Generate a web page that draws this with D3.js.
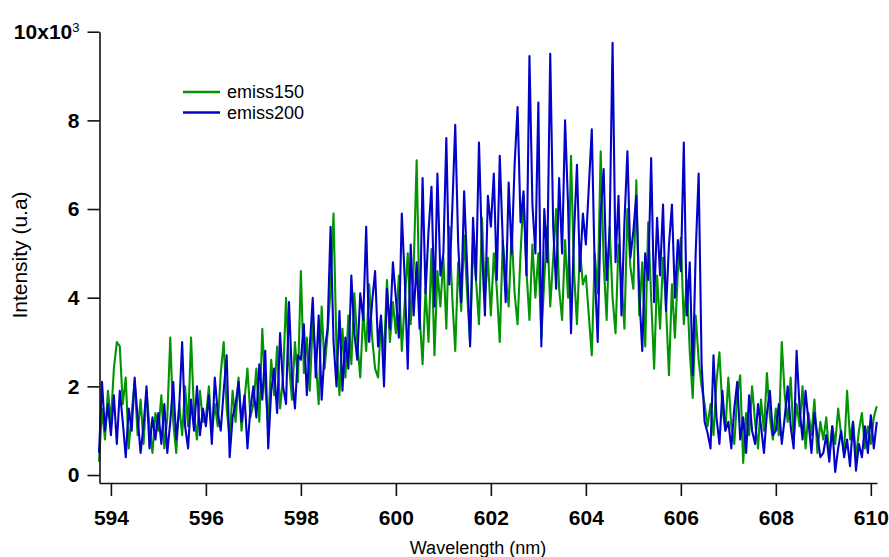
<!DOCTYPE html>
<html>
<head>
<script src="https://d3js.org/d3.v7.min.js"></script>
<style>
  body { margin: 0; background: #fff; }
  .tick text { font-family: "Liberation Sans", Arial, sans-serif; font-weight: bold; fill: #000; }
  .axis path, .axis line { stroke: #111; stroke-width: 1.6; }
  .title { font-family: "Liberation Sans", Arial, sans-serif; fill: #000; }
  .legend text { font-family: "Liberation Sans", Arial, sans-serif; font-size: 18px; fill: #000; }
</style>
</head>
<body>
<svg id="chart" width="889" height="557"></svg>
<script>
// wavelength grid (nm): first sample and spacing of the spectrometer
var lambdaStart = 593.75;
var lambdaStep = 0.0625;

// intensity, in units of 10^3
var emiss150 = [
  0.3, 1.5, 0.8, 1.9,
  1.2, 2.4, 3.0, 2.9, 1.6, 2.2, 0.6, 1.4, 2.1, 0.9, 1.7, 0.7, 1.9, 1.1, 0.5, 1.4,
  1.0, 1.8, 0.6, 1.3, 3.1, 1.2, 0.5, 1.6, 0.9, 2.0, 1.1, 3.1, 1.4, 0.8, 1.9, 1.2,
  1.3, 2.0, 0.9, 1.6, 1.1, 2.3, 3.0, 1.5, 0.8, 1.9, 1.2, 2.2, 1.0, 1.7, 2.4, 1.3,
  1.6, 2.4, 1.2, 3.3, 2.0, 1.1, 2.6, 1.8, 2.9, 1.5, 2.2, 4.0, 2.5, 1.7, 3.0, 2.1,
  4.6, 2.3, 3.1, 1.9, 3.5, 2.6, 1.6, 3.8, 2.4, 3.2, 4.2, 5.9, 2.8, 1.8, 3.3, 2.2,
  3.6, 2.5, 4.1, 3.0, 2.2, 3.7, 2.8, 4.3, 3.1, 2.4, 2.2, 3.5, 2.7, 4.4, 3.0, 3.9,
  3.2, 4.5, 2.8, 3.9, 5.0, 3.4, 4.7, 7.1, 3.6, 2.5, 4.2, 3.0, 5.1, 2.7, 4.6, 3.8,
  4.9, 3.3, 5.6, 4.0, 2.8, 4.8, 3.7, 5.4, 4.1, 3.0, 5.2, 4.4, 3.4, 5.8, 4.0, 4.9,
  3.6, 5.0, 4.2, 3.0, 5.3, 4.5, 3.8, 5.5, 4.1, 3.4, 5.0, 6.3, 4.6, 3.5, 5.2, 4.0,
  5.0, 3.1, 4.4, 5.6, 3.8, 4.9, 6.0, 4.2, 3.5, 5.3, 4.0, 7.2, 4.6, 3.4, 5.1, 4.3,
  4.5, 3.6, 2.7, 5.0, 4.1, 7.3, 4.8, 3.5, 5.6, 4.0, 3.2, 5.2, 4.4, 3.3, 6.0, 4.7,
  4.2, 6.65, 3.6, 4.8, 2.9, 5.7, 4.0, 2.4, 4.5, 3.3, 4.9, 3.8, 2.25, 4.3, 3.1, 4.6,
  5.35, 3.4, 4.4, 2.8, 1.74, 3.6, 2.6, 2.0, 1.6, 1.1, 1.6, 0.9, 2.1, 2.77, 1.5, 1.0,
  2.2, 1.1, 0.7, 1.8, 2.25, 0.27, 1.4, 0.9, 2.0, 1.2, 0.6, 1.7, 1.0, 2.3, 1.3, 0.8,
  1.5, 0.9, 3.0, 1.8, 1.2, 2.2, 0.8, 1.6, 1.1, 2.0, 0.6, 1.4, 0.9, 1.7, 0.5, 1.2,
  0.8, 1.3, 0.4, 1.1, 0.7, 1.5, 0.9, 0.5, 1.9, 0.8, 1.2, 0.4, 1.0, 1.4, 0.6, 1.1, 0.7, 1.3, 1.55
];

var emiss200 = [
  0.5, 2.1, 1.0, 1.6,
  0.9, 1.8, 0.7, 1.9, 1.2, 0.4, 1.5, 1.0, 2.2, 1.3, 0.5, 1.1, 2.0, 0.6, 1.3, 0.8,
  1.4, 0.7, 1.6, 0.5, 1.2, 2.1, 0.8, 1.5, 3.0, 1.1, 0.6, 1.7, 1.0, 2.0, 0.9, 1.5,
  1.1, 1.8, 0.7, 2.2, 1.4, 1.0, 1.9, 2.7, 0.4, 1.3, 1.6, 2.1, 1.2, 1.8, 0.6, 1.5,
  2.0, 1.3, 2.5, 1.7, 2.8, 0.6, 1.9, 2.4, 1.4, 3.2, 2.0, 1.6, 3.9, 2.2, 1.5, 2.7,
  2.6, 3.4, 1.8, 2.9, 4.0, 2.2, 3.6, 1.7, 2.8, 3.3, 5.6, 3.0, 2.0, 3.7, 1.9, 3.1,
  2.4, 4.5, 3.2, 2.6, 4.1, 3.5, 5.6, 3.0, 3.9, 4.6, 2.9, 3.6, 2.0, 4.2, 3.3, 4.8,
  4.0, 3.1, 5.9, 4.4, 2.4, 5.2, 3.6, 4.8, 3.3, 6.7, 4.1, 5.5, 6.5, 3.8, 6.8, 4.5,
  5.0, 7.6, 4.3, 6.0, 7.9, 5.2, 3.9, 6.4, 4.7, 2.9, 5.8, 4.4, 7.5, 5.1, 3.6, 6.3,
  5.6, 6.8, 4.4, 7.2, 5.3, 3.9, 6.6, 5.0, 7.0, 8.3, 5.7, 6.4, 4.5, 9.45, 6.1, 5.0,
  8.4, 2.9, 6.0, 4.8, 9.5, 5.6, 4.2, 6.7, 5.0, 8.0, 6.1, 3.2, 5.4, 7.0, 4.6, 5.9,
  5.2, 6.5, 7.8, 4.6, 3.0, 5.9, 6.9, 4.4, 5.5, 9.75, 4.8, 6.3, 3.6, 5.7, 7.3, 4.9,
  5.5, 6.3, 4.1, 2.8, 5.0, 4.4, 7.15, 3.9, 5.8, 4.5, 6.1, 3.7, 5.2, 6.1, 4.0, 5.3,
  4.6, 7.5, 3.6, 4.8, 2.25, 5.0, 6.8, 2.5, 1.2, 0.95, 0.6, 2.7, 1.3, 0.7, 1.9, 1.0,
  1.2, 0.6, 1.5, 2.1, 0.8, 1.3, 0.5, 1.8, 1.0, 0.7, 1.6, 1.1, 0.5, 1.4, 1.9, 0.9,
  1.0, 1.6, 0.7, 1.3, 2.0, 1.1, 0.6, 2.8, 1.5, 0.8, 1.9, 1.2, 0.5, 1.4, 0.9, 0.4,
  0.5, 0.9, 0.3, 1.1, 0.07, 0.6, 1.0, 0.4, 0.8, 0.2, 1.2, 0.1, 0.7, 0.4, 1.1, 0.5, 1.35, 0.6, 1.2
];

var xTicks = [594, 596, 598, 600, 602, 604, 606, 608, 610];
var yTicks = [0, 2, 4, 6, 8, 10];

var seriesNames = ["emiss150", "emiss200"];
var seriesColors = ["#039403", "#0303c8"];

var svg = d3.select("#chart");

var x = d3.scaleLinear().domain([593.76, 610.13]).range([99.5, 877]);
var y = d3.scaleLinear().domain([-0.18, 10]).range([483, 31.7]);

function toPoints(vals) {
  return vals.map(function(v, i) { return [lambdaStart + i * lambdaStep, v]; });
}

var line = d3.line()
  .x(function(d) { return x(d[0]); })
  .y(function(d) { return y(d[1]); });

// green first, blue drawn over it
[emiss150, emiss200].forEach(function(vals, k) {
  svg.append("path")
    .datum(toPoints(vals))
    .attr("fill", "none")
    .attr("stroke", seriesColors[k])
    .attr("stroke-width", 2.1)
    .attr("stroke-linejoin", "round")
    .attr("d", line);
});

// axes
var xAxis = svg.append("g")
  .attr("class", "axis")
  .attr("transform", "translate(0,483)")
  .call(d3.axisBottom(x).tickValues(xTicks).tickSize(13).tickPadding(14).tickSizeOuter(0));
xAxis.selectAll(".tick text").style("font-size", "21px");

var yAxis = svg.append("g")
  .attr("class", "axis")
  .attr("transform", "translate(99.5,0)")
  .call(d3.axisLeft(y).tickValues(yTicks).tickSize(12).tickPadding(8).tickSizeOuter(0)
    .tickFormat(function(d) { return d === 10 ? "10x10" : d; }));
yAxis.selectAll(".tick text").style("font-size", "21px");
yAxis.selectAll(".tick text")
  .filter(function(d) { return d === 10; })
  .append("tspan")
  .attr("dy", "-0.55em")
  .style("font-size", "13px")
  .style("font-weight", "normal")
  .text("3");

// axis titles
svg.append("text")
  .attr("class", "title")
  .attr("text-anchor", "middle")
  .style("font-size", "21px")
  .attr("transform", "translate(27,255) rotate(-90)")
  .text("Intensity (u.a)");

svg.append("text")
  .attr("class", "title")
  .attr("text-anchor", "middle")
  .style("font-size", "18px")
  .attr("x", 478)
  .attr("y", 554)
  .text("Wavelength (nm)");

// legend
var legend = svg.append("g").attr("class", "legend");
seriesNames.forEach(function(name, k) {
  var ly = 92 + k * 20.5;
  legend.append("line")
    .attr("x1", 183).attr("x2", 220)
    .attr("y1", ly).attr("y2", ly)
    .attr("stroke", seriesColors[k])
    .attr("stroke-width", 2.4);
  legend.append("text")
    .attr("x", 227)
    .attr("y", ly + 6)
    .text(name);
});
</script>
</body>
</html>
